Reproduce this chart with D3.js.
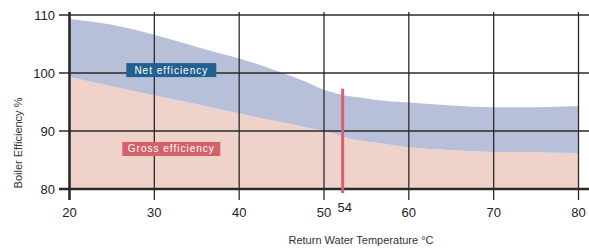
<!DOCTYPE html>
<meta charset="utf-8">
<style>
	body { margin: 0; background: #fff; }
	svg text { font-family: "Liberation Sans", Arial, sans-serif; }
</style>
<script src="https://d3js.org/d3.v7.min.js"></script>
<svg id="chart" width="589" height="249"></svg>
<script>

	// return water temperature (°C)
	var temps = [20, 25, 30, 35, 40, 45, 48, 50, 52, 53, 54, 56, 60, 65, 70, 75, 80];
	// efficiency %
	var netEff   = [109.3, 108.3, 106.6, 104.5, 102.5, 100.1, 98.4, 97.1, 96.3, 96.0, 95.8, 95.4, 94.9, 94.4, 94.1, 94.1, 94.3];
	var grossEff = [99.3, 97.7, 96.1, 94.6, 93.0, 91.5, 90.6, 90.0, 89.2, 88.7, 88.4, 88.0, 87.2, 86.7, 86.4, 86.3, 86.2];

	var xTicks = [20, 30, 40, 50, 60, 70, 80];
	var yTicks = [80, 90, 100, 110];

	// dew point marker: label "54", drawn where the original puts it
	var markerLabel = "54";
	var markerAt = 52.2;
	var markerRange = [79.3, 97.3];

	var width = 589, height = 249;

	var x = d3.scaleLinear().domain([20, 80]).range([69.5, 578.5]);
	var y = d3.scaleLinear().domain([80, 110]).range([189, 15]);

	var svg = d3.select("#chart");

	var rows = temps.map(function(t, i) { return {t: t, net: netEff[i], gross: grossEff[i]}; });

	// gross area (pink)
	svg.append("path")
		.datum(rows)
		.attr("fill", "#efd3cb")
		.attr("d", d3.area()
			.curve(d3.curveMonotoneX)
			.x(function(d) { return x(d.t); })
			.y0(y(80))
			.y1(function(d) { return y(d.gross); }));

	// net area (blue), between gross and net
	svg.append("path")
		.datum(rows)
		.attr("fill", "#b7c0d8")
		.attr("d", d3.area()
			.curve(d3.curveMonotoneX)
			.x(function(d) { return x(d.t); })
			.y0(function(d) { return y(d.gross); })
			.y1(function(d) { return y(d.net); }));

	// grid
	svg.append("g").selectAll("line").data(xTicks).enter().append("line")
		.attr("x1", x).attr("x2", x)
		.attr("y1", 12).attr("y2", 200)
		.attr("stroke", "#2a2a2a")
		.attr("stroke-width", function(d) { return d == 20 ? 2.6 : 1.3; });

	svg.append("g").selectAll("line").data(yTicks).enter().append("line")
		.attr("x1", 59).attr("x2", width)
		.attr("y1", y).attr("y2", y)
		.attr("stroke", "#2a2a2a")
		.attr("stroke-width", function(d) { return d == 80 ? 2.6 : 1.3; });

	// tick labels
	svg.append("g").selectAll("text").data(yTicks).enter().append("text")
		.attr("x", 55)
		.attr("y", y)
		.attr("dy", "0.35em")
		.attr("text-anchor", "end")
		.attr("font-size", 13)
		.attr("fill", "#222")
		.text(function(d) { return d; });

	svg.append("g").selectAll("text").data(xTicks).enter().append("text")
		.attr("x", x)
		.attr("y", 217)
		.attr("text-anchor", "middle")
		.attr("font-size", 13)
		.attr("fill", "#222")
		.text(function(d) { return d; });

	// marker line
	svg.append("line")
		.attr("x1", x(markerAt)).attr("x2", x(markerAt))
		.attr("y1", y(markerRange[1])).attr("y2", y(markerRange[0]))
		.attr("stroke", "#d7626c")
		.attr("stroke-width", 3);

	svg.append("text")
		.attr("x", x(markerAt) + 2)
		.attr("y", 212)
		.attr("text-anchor", "middle")
		.attr("font-size", 13)
		.attr("fill", "#222")
		.text(markerLabel);

	// series labels
	function tag(label, tx, ty, bg, w) {
		var g = svg.append("g").attr("transform", "translate(" + x(tx) + "," + y(ty) + ")");
		g.append("rect")
			.attr("x", -w / 2).attr("y", -7)
			.attr("width", w).attr("height", 14)
			.attr("fill", bg);
		g.append("text")
			.attr("text-anchor", "middle")
			.attr("dy", "0.35em")
			.attr("font-size", 10)
			.attr("letter-spacing", 1)
			.attr("fill", "#fff")
			.text(label);
	}
	tag("Net efficiency", 32.0, 100.5, "#22618f", 90);
	tag("Gross efficiency", 32.0, 86.9, "#d5616a", 98);

	// axis titles
	svg.append("text")
		.attr("x", 361)
		.attr("y", 244)
		.attr("text-anchor", "middle")
		.attr("font-size", 11)
		.attr("fill", "#333")
		.text("Return Water Temperature °C");

	svg.append("text")
		.attr("transform", "translate(22,143) rotate(-90)")
		.attr("text-anchor", "middle")
		.attr("font-size", 11)
		.attr("fill", "#333")
		.text("Boiler Efficiency %");

</script>
